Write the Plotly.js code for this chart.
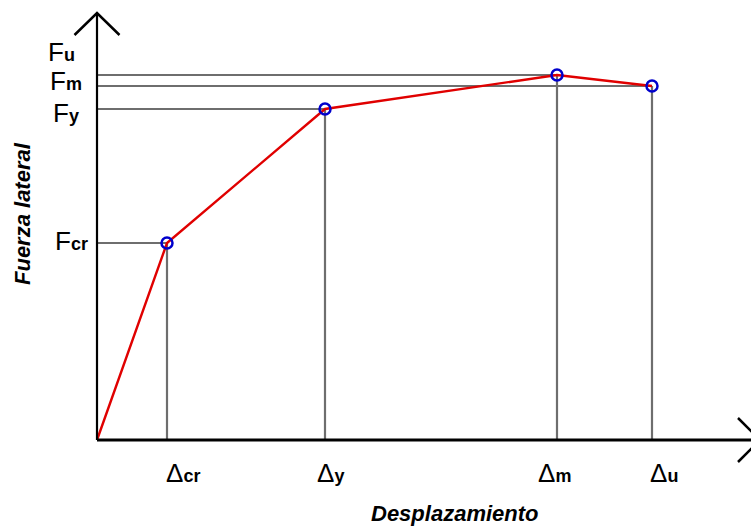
<!DOCTYPE html>
<html>
<head>
<meta charset="utf-8">
<script src="https://cdn.plot.ly/plotly-3.0.1.min.js"></script>
<style>html,body{margin:0;padding:0;background:#fff;}#chart{width:751px;height:529px;}</style>
</head>
<body>
<div id="chart"></div>
<script>
// Data (arbitrary units)
const displacement = [0, 0.70, 2.28, 4.60, 5.55];
const force = [0, 1.97, 3.31, 3.65, 3.54];
const pointNames = ['origin', 'cr', 'y', 'm', 'u'];
const forceLabels = ['F', 'F', 'F', 'F'];
const forceSubs = ['cr', 'y', 'u', 'm'];
const dispSubs = ['cr', 'y', 'm', 'u'];
const xTitle = 'Desplazamiento';
const yTitle = 'Fuerza lateral';

const fontFam = '"Liberation Sans", Arial, sans-serif';
const gray = '#6e6e6e';

const shapes = [];
// guide lines from each characteristic point
for (let i = 1; i < displacement.length; i++) {
  shapes.push({type:'line', xref:'x', yref:'y', x0:0, x1:displacement[i], y0:force[i], y1:force[i], line:{color:gray, width:2.2}, layer:'below'});
  shapes.push({type:'line', xref:'x', yref:'y', x0:displacement[i], x1:displacement[i], y0:0, y1:force[i], line:{color:gray, width:2.2}, layer:'below'});
}
// axes with arrows
const yTop = 4.27, xEnd = 6.63;
shapes.push({type:'line', xref:'x', yref:'y', x0:0, x1:0, y0:0, y1:yTop, line:{color:'#000', width:2.2}});
shapes.push({type:'path', xref:'x', yref:'y', path:`M -0.225 ${yTop-0.22} L 0 ${yTop} L 0.225 ${yTop-0.22}`, line:{color:'#000', width:2.5}});
shapes.push({type:'line', xref:'x', yref:'y', x0:0, x1:xEnd, y0:0, y1:0, line:{color:'#000', width:3}});
shapes.push({type:'path', xref:'x', yref:'y', path:`M ${xEnd-0.22} 0.22 L ${xEnd} 0 L ${xEnd-0.22} -0.22`, line:{color:'#000', width:2.5}});

const sub = s => `<span style="font-size:18px"><b>${s}</b></span>`;
const annotations = [];
const fIdx = {cr:1, y:2, m:3, u:4};
const fShift = {cr:[-7, 2], y:[-16, -4], u:[-20, 34], m:[-13, -6]};
forceSubs.forEach((s, k) => {
  const i = fIdx[s];
  annotations.push({x:0, y:force[i], xref:'x', yref:'y', text:forceLabels[k] + sub(s), showarrow:false,
    xanchor:'right', yanchor:'middle', xshift:fShift[s][0], yshift:fShift[s][1],
    font:{family:fontFam, size:26, color:'#000'}});
});
const dShift = {cr:-3, y:-10, m:-21, u:-4};
dispSubs.forEach(s => {
  const i = fIdx[s];
  annotations.push({x:displacement[i], y:0, xref:'x', yref:'y', text:'Δ' + sub(s), showarrow:false,
    xanchor:'left', yanchor:'middle', xshift:dShift[s], yshift:-33,
    font:{family:fontFam, size:26, color:'#000'}});
});
annotations.push({x:455/751, y:1-513/529, xref:'paper', yref:'paper', text:'<b><i>'+xTitle+'</i></b>', showarrow:false,
  xanchor:'center', yanchor:'middle', font:{family:fontFam, size:22, color:'#000'}});
annotations.push({x:22/751, y:1-214/529, xref:'paper', yref:'paper', text:'<b><i>'+yTitle+'</i></b>', showarrow:false,
  textangle:-90, xanchor:'center', yanchor:'middle', font:{family:fontFam, size:22, color:'#000'}});

const traces = [
  {x:displacement, y:force, mode:'lines', line:{color:'#e00000', width:2.4}, hoverinfo:'skip', showlegend:false},
  {x:displacement.slice(1), y:force.slice(1), text:pointNames.slice(1), mode:'markers',
   marker:{symbol:'circle-open', size:11, color:'#0000cc', line:{width:2.5, color:'#0000cc'}}, showlegend:false}
];

const layout = {
  width:751, height:529,
  margin:{l:0, r:0, t:0, b:0},
  paper_bgcolor:'#fff', plot_bgcolor:'#fff',
  xaxis:{range:[-0.97, 6.54], showgrid:false, zeroline:false, showticklabels:false, showline:false, ticks:'', fixedrange:true},
  yaxis:{range:[-0.89, 4.40], showgrid:false, zeroline:false, showticklabels:false, showline:false, ticks:'', fixedrange:true},
  shapes:shapes,
  annotations:annotations,
  showlegend:false
};
Plotly.newPlot('chart', traces, layout, {staticPlot:true});
</script>
</body>
</html>
